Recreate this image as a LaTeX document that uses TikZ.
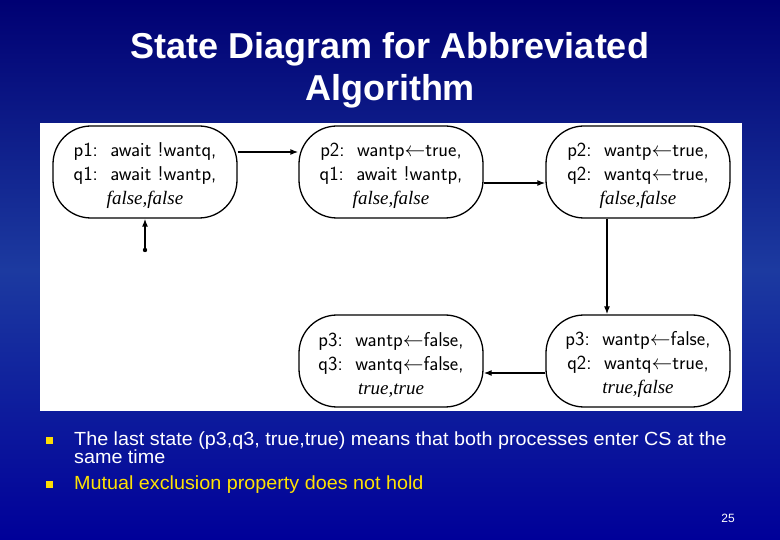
\documentclass[tikz,border=0pt]{standalone}
\usepackage{fontspec}
\setmainfont{Liberation Sans}
\newfontfamily\statefont{Latin Modern Sans}
\newfontfamily\valfont{Liberation Serif}
\usetikzlibrary{arrows.meta, positioning, calc}

\begin{document}
\begin{tikzpicture}[
		x=1pt, y=-1pt,
		state/.style={draw, line width=1.3pt, rounded corners=38pt, minimum width=184pt, minimum height=92pt,
			align=center, font=\statefont\fontsize{20}{24}\selectfont, inner sep=0pt},
		arrow/.style={-{Latex[length=8pt,width=6pt]}, line width=1.3pt}
	]
	
		% Slide background
		\fill[top color=blue!45!black, bottom color=blue!60!black, middle color={rgb,255:red,28;green,58;blue,160}]
			(0,0) rectangle (780,540);
		\useasboundingbox (0,0) rectangle (780,540);
		\node[text=white, font=\bfseries\fontsize{36}{42}\selectfont, align=center] (title) at (390,70)
			{State Diagram for Abbreviated\\Algorithm};
		\fill[white] (40,123) rectangle (742,411);
		
		% States
		\node[state] (s1) at (145,172) {\rule{0pt}{22pt}p1:\ \ await !wantq,\\ q1:\ \ await !wantp,\\ {\valfont\itshape\fontsize{19}{24}\selectfont false,false}};
		\node[state] (s2) at (391,172) {\rule{0pt}{22pt}p2:\ \ wantp$\leftarrow$true,\\ q1:\ \ await !wantp,\\ {\valfont\itshape\fontsize{19}{24}\selectfont false,false}};
		\node[state] (s3) at (638,172) {\rule{0pt}{22pt}p2:\ \ wantp$\leftarrow$true,\\ q2:\ \ wantq$\leftarrow$true,\\ {\valfont\itshape\fontsize{19}{24}\selectfont false,false}};
		\node[state] (s4) at (638,361) {\rule{0pt}{22pt}p3:\ \ wantp$\leftarrow$false,\\ q2:\ \ wantq$\leftarrow$true,\\ {\valfont\itshape\fontsize{19}{24}\selectfont true,false}};
		\node[state] (s5) at (391,361) {\rule{0pt}{22pt}p3:\ \ wantp$\leftarrow$false,\\ q3:\ \ wantq$\leftarrow$false,\\ {\valfont\itshape\fontsize{19}{24}\selectfont true,true}};
		\coordinate (init) at (145,250);
		
		% Arrows
		\draw[arrow] ($(s1.east)+(0,-20)$) -- ($(s2.west)+(0,-20)$);
		\draw[arrow] ($(s2.east)+(0,11)$) -- ($(s3.west)+(0,11)$);
		\draw[arrow] ($(s3.south)+(-31,0)$) -- ($(s4.north)+(-31,0)$);
		\draw[arrow] ($(s4.west)+(0,12)$) -- ($(s5.east)+(0,12)$);
		\fill (init) circle (2.2pt);
		\draw[arrow] (init) -- (s1.south);
		
		% Bullets
		\fill[yellow!80!orange] (46,437) rectangle (53,444);
		\fill[yellow!80!orange] (46,481) rectangle (53,488);
		\node[anchor=north west, text=white, align=left, inner sep=0pt, font=\fontsize{19}{18}\selectfont] (b1) at (74,432)
			{\scalebox{1.04}[1]{The last state (p3,q3, true,true) means that both processes enter CS at the}\\\scalebox{1.04}[1]{same time}};
		\node[anchor=north west, text=yellow!85!orange, inner sep=0pt, font=\fontsize{19}{18}\selectfont] (b2) at (74,476)
			{\scalebox{1.04}[1]{Mutual exclusion property does not hold}};
		\node[text=white, font=\fontsize{12}{12}\selectfont] (page) at (728,518) {25};
		
	\end{tikzpicture}
\end{document}
